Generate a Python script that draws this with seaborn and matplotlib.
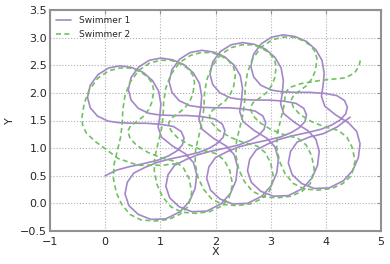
import matplotlib
matplotlib.use('Agg')
from matplotlib import pyplot as plt
import pandas as pd
import seaborn as sns

# Swimmer 1 path
s1_x = [0.00, 0.20, 0.42, 0.70, 0.95, 1.15, 1.30, 1.40, 1.43, 1.38, 1.24, 1.02, 0.75, 0.50, 0.25, 0.05, -0.14, -0.27, -0.32, -0.27, -0.13, 0.06, 0.27, 0.48, 0.69, 0.86, 0.97, 1.01, 0.99, 0.96, 1.02, 1.22, 1.45, 1.60, 1.66, 1.63, 1.53, 1.36, 1.10, 0.83, 0.60, 0.43, 0.36, 0.40, 0.52,
        0.74, 0.94, 1.16, 1.44, 1.69, 1.89, 2.04, 2.14, 2.17, 2.12, 1.98, 1.76, 1.49, 1.24, 0.99, 0.79, 0.60, 0.47, 0.42, 0.47, 0.61, 0.80, 1.01, 1.22, 1.43, 1.60, 1.71, 1.75, 1.73, 1.70, 1.76, 1.96, 2.19, 2.34, 2.40, 2.37, 2.27, 2.10, 1.84, 1.57, 1.34, 1.17, 1.10, 1.14, 1.26,
        1.48, 1.68, 1.90, 2.18, 2.43, 2.63, 2.78, 2.88, 2.91, 2.86, 2.72, 2.50, 2.23, 1.98, 1.73, 1.53, 1.34, 1.21, 1.16, 1.21, 1.35, 1.54, 1.75, 1.96, 2.17, 2.34, 2.45, 2.49, 2.47, 2.44, 2.50, 2.70, 2.93, 3.08, 3.14, 3.11, 3.01, 2.84, 2.58, 2.31, 2.08, 1.91, 1.84, 1.88, 2.00,
        2.22, 2.42, 2.64, 2.92, 3.17, 3.37, 3.52, 3.62, 3.65, 3.60, 3.46, 3.24, 2.97, 2.72, 2.47, 2.27, 2.08, 1.95, 1.90, 1.95, 2.09, 2.28, 2.49, 2.70, 2.91, 3.08, 3.19, 3.23, 3.21, 3.18, 3.24, 3.44, 3.67, 3.82, 3.88, 3.85, 3.75, 3.58, 3.32, 3.05, 2.82, 2.65, 2.58, 2.62, 2.74,
        2.96, 3.16, 3.38, 3.66, 3.91, 4.11, 4.26, 4.36, 4.39, 4.34, 4.20, 3.98, 3.71, 3.46, 3.21, 3.01, 2.82, 2.69, 2.64, 2.69, 2.83, 3.02, 3.23, 3.44, 3.65, 3.82, 3.93, 3.97, 3.95, 3.92, 3.98, 4.18, 4.41, 4.56, 4.62, 4.59, 4.49, 4.32, 4.06, 3.79, 3.56, 3.39, 3.32, 3.36, 3.48,
        3.70, 3.95, 4.20, 4.44]
s1_y = [0.50, 0.60, 0.66, 0.72, 0.78, 0.86, 0.95, 1.06, 1.18, 1.30, 1.39, 1.43, 1.45, 1.45, 1.46, 1.49, 1.58, 1.73, 1.92, 2.14, 2.33, 2.45, 2.49, 2.46, 2.37, 2.22, 2.03, 1.80, 1.57, 1.38, 1.20, 1.04, 0.90, 0.74, 0.52, 0.27, 0.04, -0.15, -0.28, -0.29, -0.20, -0.04, 0.17, 0.38, 0.55,
        0.66, 0.74, 0.80, 0.86, 0.92, 1.00, 1.09, 1.20, 1.32, 1.44, 1.53, 1.57, 1.59, 1.59, 1.60, 1.63, 1.72, 1.87, 2.06, 2.28, 2.47, 2.59, 2.63, 2.60, 2.51, 2.36, 2.17, 1.94, 1.71, 1.52, 1.34, 1.18, 1.04, 0.88, 0.66, 0.41, 0.18, -0.01, -0.14, -0.15, -0.06, 0.10, 0.31, 0.52, 0.69,
        0.80, 0.88, 0.94, 1.00, 1.06, 1.14, 1.23, 1.34, 1.46, 1.58, 1.67, 1.71, 1.73, 1.73, 1.74, 1.77, 1.86, 2.01, 2.20, 2.42, 2.61, 2.73, 2.77, 2.74, 2.65, 2.50, 2.31, 2.08, 1.85, 1.66, 1.48, 1.32, 1.18, 1.02, 0.80, 0.55, 0.32, 0.13, 0.00, -0.01, 0.08, 0.24, 0.45, 0.66, 0.83,
        0.94, 1.02, 1.08, 1.14, 1.20, 1.28, 1.37, 1.48, 1.60, 1.72, 1.81, 1.85, 1.87, 1.87, 1.88, 1.91, 2.00, 2.15, 2.34, 2.56, 2.75, 2.87, 2.91, 2.88, 2.79, 2.64, 2.45, 2.22, 1.99, 1.80, 1.62, 1.46, 1.32, 1.16, 0.94, 0.69, 0.46, 0.27, 0.14, 0.13, 0.22, 0.38, 0.59, 0.80, 0.97,
        1.08, 1.16, 1.22, 1.28, 1.34, 1.42, 1.51, 1.62, 1.74, 1.86, 1.95, 1.99, 2.01, 2.01, 2.02, 2.05, 2.14, 2.29, 2.48, 2.70, 2.89, 3.01, 3.05, 3.02, 2.93, 2.78, 2.59, 2.36, 2.13, 1.94, 1.76, 1.60, 1.46, 1.30, 1.08, 0.83, 0.60, 0.41, 0.28, 0.27, 0.36, 0.52, 0.73, 0.94, 1.11,
        1.20, 1.26, 1.38, 1.56]

# Swimmer 2 path: tall ovals, up the left side, down and in on the right
s2_x = [1.30, 1.03, 0.60, 0.24, 0.00, -0.18, -0.34, -0.41,
        -0.42, -0.38, -0.29, -0.13, 0.07, 0.26, 0.45, 0.62, 0.76, 0.85, 0.88, 0.85, 0.79, 0.70, 0.57, 0.46, 0.41, 0.45, 0.57, 0.78, 1.03, 1.27, 1.42, 1.52, 1.57, 1.50, 1.35, 1.15, 0.90, 0.65, 0.45, 0.30, 0.20, 0.15, 0.16, 0.22, 0.28, 0.31,
        0.32, 0.36, 0.45, 0.61, 0.81, 1.00, 1.19, 1.36, 1.50, 1.59, 1.62, 1.59, 1.53, 1.44, 1.31, 1.20, 1.15, 1.19, 1.31, 1.52, 1.77, 2.01, 2.16, 2.26, 2.31, 2.24, 2.09, 1.89, 1.64, 1.39, 1.19, 1.04, 0.94, 0.89, 0.90, 0.96, 1.02, 1.05,
        1.06, 1.10, 1.19, 1.35, 1.55, 1.74, 1.93, 2.10, 2.24, 2.33, 2.36, 2.33, 2.27, 2.18, 2.05, 1.94, 1.89, 1.93, 2.05, 2.26, 2.51, 2.75, 2.90, 3.00, 3.05, 2.98, 2.83, 2.63, 2.38, 2.13, 1.93, 1.78, 1.68, 1.63, 1.64, 1.70, 1.76, 1.79,
        1.80, 1.84, 1.93, 2.09, 2.29, 2.48, 2.67, 2.84, 2.98, 3.07, 3.10, 3.07, 3.01, 2.92, 2.79, 2.68, 2.63, 2.67, 2.79, 3.00, 3.25, 3.49, 3.64, 3.74, 3.79, 3.72, 3.57, 3.37, 3.12, 2.87, 2.67, 2.52, 2.42, 2.37, 2.38, 2.44, 2.50, 2.53,
        2.54, 2.58, 2.67, 2.83, 3.03, 3.22, 3.41, 3.58, 3.72, 3.81, 3.84, 3.81, 3.75, 3.66, 3.53, 3.42, 3.37, 3.41, 3.53, 3.74, 3.99, 4.23, 4.38, 4.48, 4.53, 4.46, 4.31, 4.11, 3.86, 3.61, 3.41, 3.26, 3.16, 3.11, 3.12, 3.18, 3.24, 3.27,
        3.35, 3.56, 3.93, 4.35, 4.52, 4.60, 4.63]
s2_y = [0.72, 0.69, 0.69, 0.81, 0.99, 1.12, 1.27, 1.42,
        1.56, 1.81, 2.05, 2.27, 2.40, 2.45, 2.45, 2.39, 2.30, 2.18, 2.05, 1.84, 1.70, 1.58, 1.48, 1.40, 1.31, 1.18, 1.05, 0.92, 0.82, 0.76, 0.64, 0.45, 0.20, -0.06, -0.20, -0.29, -0.32, -0.30, -0.20, -0.02, 0.20, 0.45, 0.70, 0.95, 1.20, 1.45,
        1.70, 1.95, 2.19, 2.41, 2.54, 2.59, 2.59, 2.53, 2.44, 2.32, 2.19, 1.98, 1.84, 1.72, 1.62, 1.54, 1.45, 1.32, 1.19, 1.06, 0.96, 0.90, 0.78, 0.59, 0.34, 0.08, -0.06, -0.15, -0.18, -0.16, -0.06, 0.12, 0.34, 0.59, 0.84, 1.09, 1.34, 1.59,
        1.84, 2.09, 2.33, 2.55, 2.68, 2.73, 2.73, 2.67, 2.58, 2.46, 2.33, 2.12, 1.98, 1.86, 1.76, 1.68, 1.59, 1.46, 1.33, 1.20, 1.10, 1.04, 0.92, 0.73, 0.48, 0.22, 0.08, -0.01, -0.04, -0.02, 0.08, 0.26, 0.48, 0.73, 0.98, 1.23, 1.48, 1.73,
        1.98, 2.23, 2.47, 2.69, 2.82, 2.87, 2.87, 2.81, 2.72, 2.60, 2.47, 2.26, 2.12, 2.00, 1.90, 1.82, 1.73, 1.60, 1.47, 1.34, 1.24, 1.18, 1.06, 0.87, 0.62, 0.36, 0.22, 0.13, 0.10, 0.12, 0.22, 0.40, 0.62, 0.87, 1.12, 1.37, 1.62, 1.87,
        2.12, 2.37, 2.61, 2.83, 2.96, 3.01, 3.01, 2.95, 2.86, 2.74, 2.61, 2.40, 2.26, 2.14, 2.04, 1.96, 1.87, 1.74, 1.61, 1.48, 1.38, 1.32, 1.20, 1.01, 0.76, 0.50, 0.36, 0.27, 0.24, 0.26, 0.36, 0.54, 0.76, 1.01, 1.26, 1.51, 1.76, 2.01,
        2.10, 2.17, 2.23, 2.27, 2.36, 2.48, 2.61]

df1 = pd.DataFrame({'x': s1_x, 'y': s1_y, 'who': 'Swimmer 1'})
df2 = pd.DataFrame({'x': s2_x, 'y': s2_y, 'who': 'Swimmer 2'})
df = pd.concat([df1, df2], ignore_index=True)

sns.set_style('white')
plt.rcParams['font.family'] = ['DejaVu Sans']

fig = plt.figure(figsize=(3.9, 2.64), dpi=100)
ax = fig.add_axes([50 / 390, 33 / 264, 331 / 390, 221 / 264])

sns.lineplot(data=df, x='x', y='y', hue='who', style='who', sort=False, estimator=None,
             palette=['#a487c9', '#72c064'], dashes=[(None, None), (3, 2)], linewidth=1.2, ax=ax)

ax.set_xlim(-1, 5)
ax.set_ylim(-0.5, 3.5)
ax.set_xticks(range(-1, 6))
ax.set_yticks([-0.5, 0.0, 0.5, 1.0, 1.5, 2.0, 2.5, 3.0, 3.5])
ax.grid(True, linestyle=':', color='#b0b0b0', linewidth=0.8)
for s in ax.spines.values():
    s.set_color('#909090')
    s.set_linewidth(1.5)
ax.tick_params(direction='in', length=3, color='#909090', labelsize=8, top=True, right=True)
ax.tick_params(axis='x', pad=4)
ax.tick_params(axis='y', pad=2)
ax.set_xlabel('X', fontsize=8, labelpad=0)
ax.set_ylabel('Y', fontsize=8, labelpad=4)
ax.legend(loc='upper left', frameon=False, fontsize=6.5, handlelength=1.6, handletextpad=0.9,
          borderaxespad=0.3)

fig.savefig('out.png', dpi=100)
